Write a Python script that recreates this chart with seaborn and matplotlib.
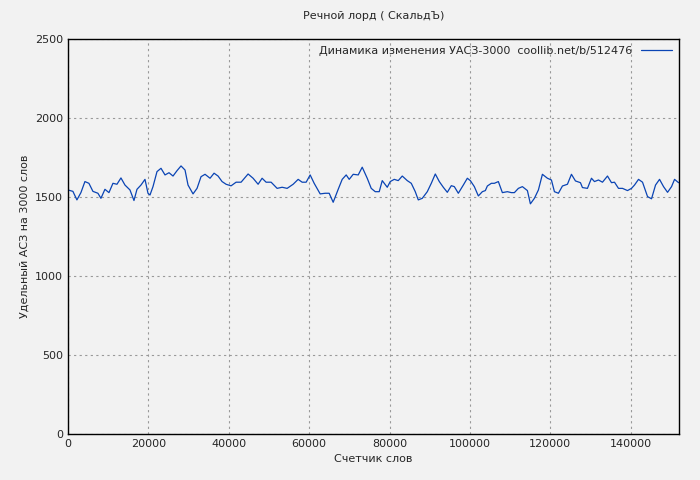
import matplotlib
matplotlib.use("Agg")
import matplotlib.pyplot as plt
import seaborn as sns
import pandas as pd

words = [0,1245,2241,3237,4233,5229,6225,7470,8217,9213,10209,11205,12201,13197,14193,15438,16434,17181,18177,19173,19920,20418,21165,22161,23157,24153,25149,26145,27141,28137,29133,29880,31125,32121,33117,34113,35358,36354,37350,38346,39342,40587,41832,43077,44820,46065,47310,48306,49302,50547,52041,53286,54531,56025,57270,58266,59262,60258,61254,62748,63993,64989,65985,67230,68226,69222,69969,70965,72210,73206,74451,75447,76443,77439,78186,79431,80178,81174,82170,83166,84411,85407,86403,87150,88146,89391,90387,91383,92379,93375,94371,95367,96114,97110,98355,99351,100098,101094,102090,103086,103833,104331,105327,106074,107070,108066,109311,110307,111054,112050,113046,114291,115038,116034,117030,118026,119271,120267,121014,122010,123006,124251,125247,126243,127488,127986,129231,130227,130974,131970,132966,134211,135207,135954,136950,137946,139191,140187,140934,141930,142926,144171,145167,146163,147159,148155,149151,150147,150894,151890]
uas = [1544,1535,1481,1527,1597,1586,1535,1523,1491,1548,1527,1586,1580,1620,1575,1544,1477,1548,1575,1611,1523,1512,1565,1660,1681,1639,1653,1632,1666,1696,1670,1575,1519,1554,1628,1643,1618,1650,1632,1597,1580,1570,1593,1593,1645,1618,1580,1618,1593,1593,1554,
       1561,1554,1580,1611,1593,1593,1639,1586,1519,1523,1523,1466,1548,1611,1639,1611,1643,1639,1688,1618,1554,1533,1533,1603,1561,1597,1611,1603,1632,1603,1586,1533,1481,1491,1533,1586,1645,1597,1561,1529,1571,1565,1523,1575,1618,1603,1565,1506,1533,1540,1569,
       1586,1586,1597,1527,1533,1527,1527,1554,1565,1540,1456,1491,1544,1643,1618,1607,1533,1523,1569,1580,1643,1601,1590,1559,1554,1618,1597,1607,1593,1632,1590,1593,1554,1554,1540,1554,1575,1611,1593,1502,1488,1575,1611,1565,1529,1565,1611,1590,1569]
n = min(len(words), len(uas))
df = pd.DataFrame({"x": words[:n], "y": uas[:n]})

sns.set_style("white")
plt.rcParams['font.family'] = ['DejaVu Sans']
bg = "#f2f2f2"
fig = plt.figure(figsize=(7, 4.8), dpi=100, facecolor=bg)
ax = fig.add_axes([0.097, 0.096, 0.873, 0.823], facecolor=bg)
sns.lineplot(data=df, x="x", y="y", ax=ax, color="#0a44b4", linewidth=0.9,
             label="Динамика изменения УАСЗ-3000  coollib.net/b/512476")
ax.set_xlim(0, 152000)
ax.set_ylim(0, 2500)
ax.set_xticks([0, 20000, 40000, 60000, 80000, 100000, 120000, 140000])
ax.set_yticks([0, 500, 1000, 1500, 2000, 2500])
ax.grid(True, color="#999999", linestyle=(0, (2, 3)), linewidth=0.8)
for s in ax.spines.values():
    s.set_color("black"); s.set_linewidth(1)
ax.tick_params(labelsize=8, length=3, direction="in")
ax.set_xlabel("Счетчик слов", fontsize=8)
ax.set_ylabel("Удельный АСЗ на 3000 слов", fontsize=8)
ax.set_title("Речной лорд ( СкальдЪ)", fontsize=8, pad=14)
leg = ax.legend(loc="upper right", frameon=False, fontsize=8, markerfirst=False,
                handlelength=2.8, borderaxespad=0.2)
fig.savefig("out.png", dpi=100, facecolor=bg)
